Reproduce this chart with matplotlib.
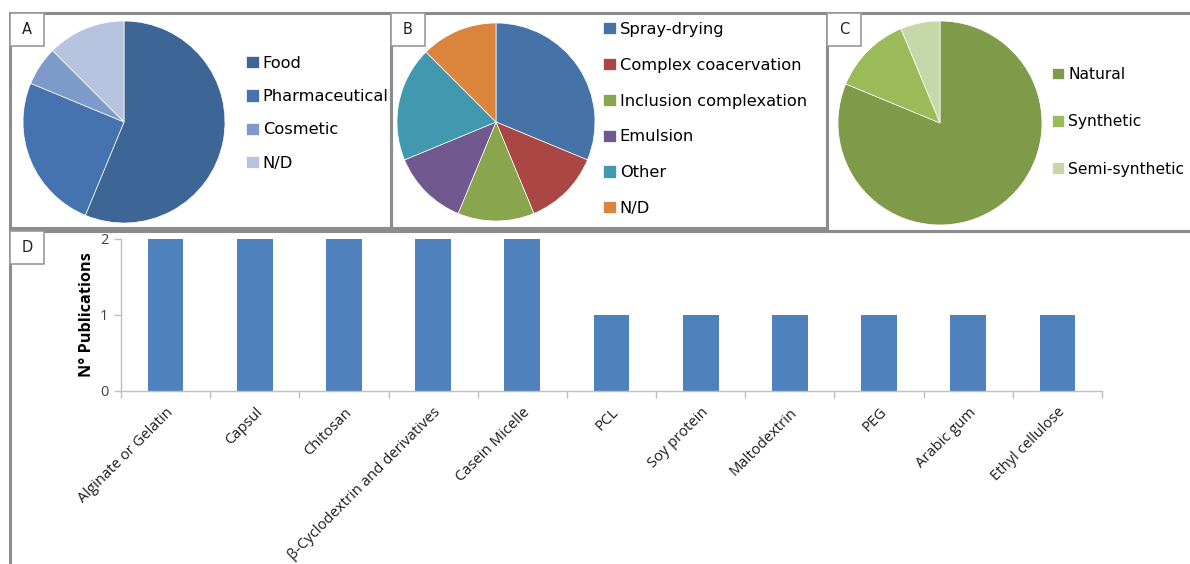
import matplotlib
matplotlib.use("Agg")
import matplotlib.pyplot as plt
from matplotlib.patches import Rectangle

W, H = 1190, 564

# A: application area
app_labels = ["Food", "Pharmaceutical", "Cosmetic", "N/D"]
app_counts = [9, 4, 1, 2]
app_colors = ["#3d6596", "#4573b0", "#7d9aca", "#b5c3de"]

# B: encapsulation technique
tech_labels = ["Spray-drying", "Complex coacervation", "Inclusion complexation",
               "Emulsion", "Other", "N/D"]
tech_counts = [5, 2, 2, 2, 3, 2]
tech_colors = ["#4572a7", "#aa4643", "#89a54e", "#71588f", "#4198af", "#db843d"]

# C: wall material origin
orig_labels = ["Natural", "Synthetic", "Semi-synthetic"]
orig_counts = [13, 2, 1]
orig_colors = ["#7f9a48", "#9bbb59", "#c6d7aa"]

# D: wall materials
materials = ["Alginate or Gelatin", "Capsul", "Chitosan",
             "β-Cyclodextrin and derivatives", "Casein Micelle", "PCL",
             "Soy protein", "Maltodextrin", "PEG", "Arabic gum", "Ethyl cellulose"]
n_pubs = [2, 2, 2, 2, 2, 1, 1, 1, 1, 1, 1]

LEG_FONT = "DejaVu Sans"


def fx(x):
    return x / W


def fy(y):
    return 1 - y / H


def box(x0, y0, x1, y1):
    # left, bottom, width, height in figure fractions from pixel corners
    return [fx(x0), fy(y1), (x1 - x0) / W, (y1 - y0) / H]


fig = plt.figure(figsize=(W / 100, H / 100), dpi=100)

# panel frames
for x0, y0, x1, y1 in [(10, 13, 391, 228), (391, 13, 827, 228),
                       (827, 13, 1200, 231), (10, 231, 1200, 580)]:
    fig.patches.append(Rectangle((fx(x0), fy(y1)), (x1 - x0) / W, (y1 - y0) / H,
                                 transform=fig.transFigure, fill=False,
                                 edgecolor="#8c8c8c", linewidth=2.2, zorder=5))

# letter tags
for letter, x0, y0 in [("A", 10, 13), ("B", 391, 13), ("C", 827, 13), ("D", 10, 231)]:
    fig.patches.append(Rectangle((fx(x0), fy(y0 + 33)), 34 / W, 33 / H,
                                 transform=fig.transFigure, facecolor="white",
                                 edgecolor="#9a9a9a", linewidth=1.2, zorder=6))
    fig.text(fx(x0 + 17), fy(y0 + 17), letter, ha="center", va="center",
             fontsize=10.5, family=LEG_FONT, color="#222222", zorder=7)


def pie_panel(cx, cy, r, counts, colors, labels, leg_x, leg_y, spacing, size=11.7):
    ax = fig.add_axes(box(cx - r, cy - r, cx + r, cy + r))
    wedges, _ = ax.pie(counts, colors=colors, startangle=90, counterclock=False,
                       radius=1, wedgeprops=dict(linewidth=0.5, edgecolor="white"))
    ax.set_xlim(-1.01, 1.01)
    ax.set_ylim(-1.01, 1.01)
    ax.legend(wedges, labels, loc="upper left",
              bbox_to_anchor=(fx(leg_x), fy(leg_y)),
              bbox_transform=fig.transFigure, frameon=False,
              prop=dict(family=LEG_FONT, size=size),
              handlelength=0.78, handleheight=0.78, handletextpad=0.25,
              labelspacing=spacing, borderaxespad=0, borderpad=0)
    return ax


pie_panel(124, 122, 102, app_counts, app_colors, app_labels, 246, 56, 1.12)
pie_panel(496, 122, 100, tech_counts, tech_colors, tech_labels, 603, 22, 1.28)
pie_panel(940, 123, 103, orig_counts, orig_colors, orig_labels, 1052, 67, 2.08, size=11.2)

# D: bar chart
axd = fig.add_axes(box(121, 239, 1102, 391))
xs = range(len(materials))
axd.bar(xs, n_pubs, width=0.4, color="#4f81bd")
axd.set_xlim(-0.5, len(materials) - 0.5)
axd.set_ylim(0, 2)
axd.set_yticks([0, 1, 2])
axd.set_xticks(list(xs))
axd.set_xticklabels(materials, rotation=45, ha="right", rotation_mode="anchor",
                    fontsize=10.6, family="Open Sans", color="#1a1a1a")
axd.set_xticks([i - 0.5 for i in range(len(materials) + 1)], minor=True)
axd.tick_params(axis="x", which="major", length=0, pad=10)
axd.tick_params(axis="x", which="minor", length=5, color="#bfbfbf", width=1)
axd.tick_params(axis="y", length=5, color="#bfbfbf", width=1, labelsize=10.5,
                labelcolor="#404040", pad=4)
for lab in axd.get_yticklabels():
    lab.set_family("Open Sans")
for side in ["top", "right"]:
    axd.spines[side].set_visible(False)
for side in ["left", "bottom"]:
    axd.spines[side].set_color("#bfbfbf")
    axd.spines[side].set_linewidth(1)
axd.set_ylabel("N° Publications", fontsize=11.7, fontweight="bold",
               family="Open Sans", labelpad=4)

fig.savefig("out.png", dpi=100)
